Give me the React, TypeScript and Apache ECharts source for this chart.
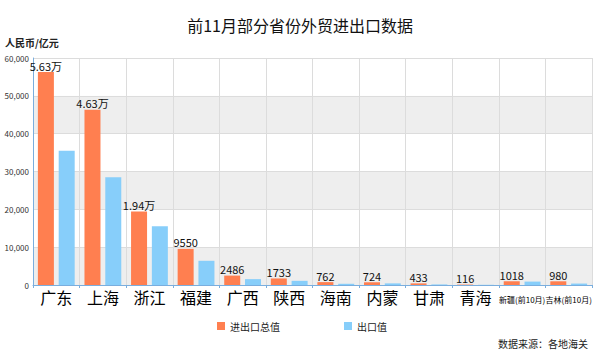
import React, { useEffect, useRef } from "react";
import * as echarts from "echarts";

const categories = ["广东", "上海", "浙江", "福建", "广西", "陕西", "海南", "内蒙", "甘肃", "青海", "新疆(前10月)", "吉林(前10月)"];
const totalValues = [56300, 46300, 19400, 9550, 2486, 1733, 762, 724, 433, 116, 1018, 980];
const totalLabels = ["5.63万", "4.63万", "1.94万", "9550", "2486", "1733", "762", "724", "433", "116", "1018", "980"];
const exportValues = [35500, 28500, 15500, 6400, 1550, 1100, 320, 430, 150, 50, 900, 380];
const yTicks = [0, 10000, 20000, 30000, 40000, 50000, 60000];

const FONT = "'Noto Sans CJK SC', 'Noto Sans', sans-serif";

export default function App() {
  const ref = useRef<HTMLDivElement>(null);
  useEffect(() => {
    if (!ref.current) return;
    const chart = echarts.init(ref.current, undefined, { renderer: "svg" });
    chart.setOption({
      animation: false,
      backgroundColor: "#ffffff",
      textStyle: { fontFamily: FONT },
      title: {
        text: "前11月部分省份外贸进出口数据",
        left: "center",
        top: 12,
        textStyle: { fontSize: 16, fontWeight: "normal", color: "#111", fontFamily: FONT },
      },
      legend: {
        left: 212,
        top: 316,
        itemWidth: 8,
        itemHeight: 8,
        itemGap: 64,
        icon: "rect",
        textStyle: { fontSize: 10, color: "#222", fontFamily: FONT },
        data: ["进出口总值", "出口值"],
      },
      graphic: [
        {
          type: "text",
          left: 5,
          top: 37,
          style: { text: "人民币/亿元", fontSize: 10, fontWeight: "bold", fill: "#222", fontFamily: FONT },
        },
        {
          type: "text",
          right: 12,
          top: 338,
          style: { text: "数据来源：各地海关", fontSize: 10, fill: "#222", fontFamily: FONT },
        },
      ],
      grid: { left: 33, right: 8, top: 58, bottom: 67, containLabel: false },
      xAxis: {
        type: "category",
        data: categories,
        boundaryGap: true,
        axisLine: { show: true, lineStyle: { color: "#7aaede", width: 1 } },
        axisTick: { show: true, alignWithLabel: false, lineStyle: { color: "#7aaede" }, length: 3 },
        splitLine: { show: true, lineStyle: { color: "#dcdcdc", width: 1 } },
        axisLabel: {
          interval: 0,
          margin: 2,
          fontFamily: FONT,
          formatter: (v: string) => (v.length > 3 ? `{s|${v}}` : `{b|${v}}`),
          rich: {
            b: { fontSize: 16, color: "#000", fontFamily: FONT, lineHeight: 20 },
            s: { fontSize: 8, color: "#000", fontFamily: FONT, lineHeight: 20, padding: [4, 0, 0, 0] },
          },
        },
      },
      yAxis: {
        type: "value",
        min: 0,
        max: 60000,
        interval: 10000,
        axisLine: { show: true, lineStyle: { color: "#7aaede", width: 1 } },
        axisTick: { show: false },
        axisLabel: {
          fontSize: 8,
          color: "#333",
          margin: 4,
          formatter: (v: number) => (yTicks.includes(v) ? v.toLocaleString("en-US") : ""),
        },
        splitLine: { show: true, lineStyle: { color: "#dcdcdc", width: 1 } },
        splitArea: { show: true, areaStyle: { color: ["#eeeeee", "#ffffff"] } },
      },
      series: [
        {
          name: "进出口总值",
          type: "bar",
          data: totalValues,
          barWidth: 16,
          barGap: "30%",
          itemStyle: { color: "#ff7f50" },
          label: {
            show: true,
            position: "top",
            distance: 1,
            fontSize: 11,
            color: "#111",
            fontFamily: FONT,
            formatter: (p: any) => totalLabels[p.dataIndex],
          },
        },
        {
          name: "出口值",
          type: "bar",
          data: exportValues,
          barWidth: 16,
          itemStyle: { color: "#87cefa" },
        },
      ],
    });
    return () => chart.dispose();
  }, []);
  return (
    <div
      ref={ref}
      style={{ position: "fixed", left: 0, top: 0, width: 600, height: 352 }}
    />
  );
}
